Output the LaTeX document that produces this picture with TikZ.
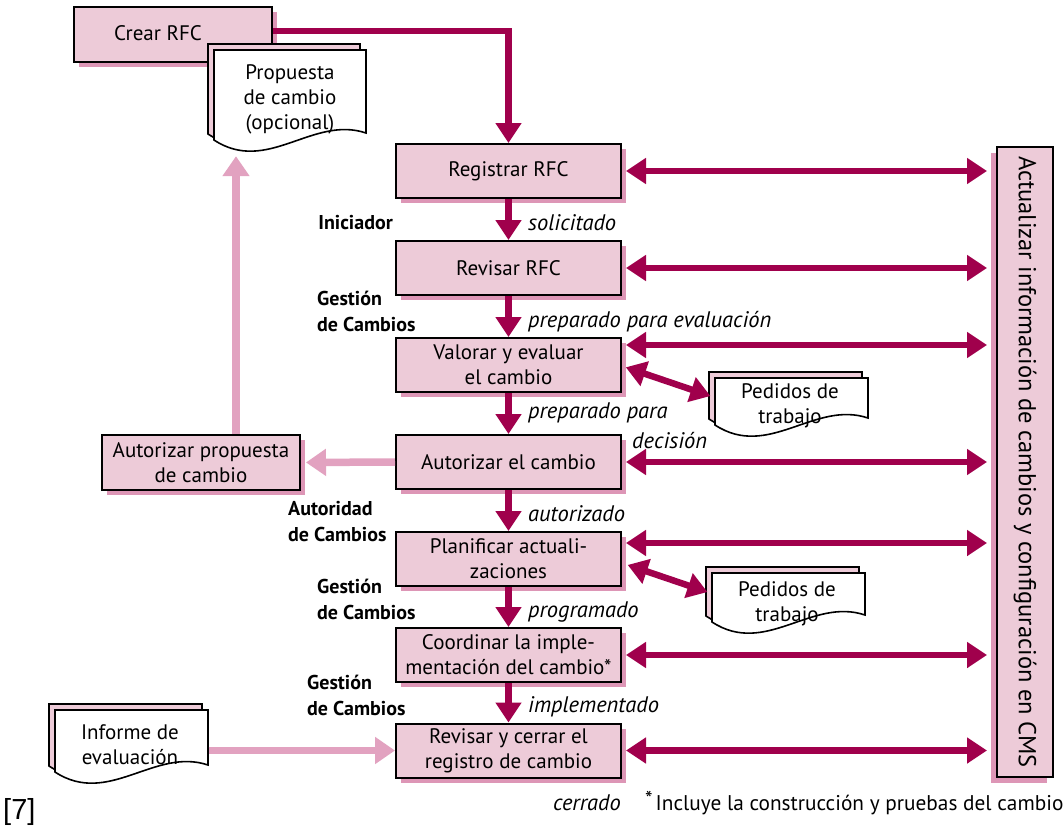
\documentclass[tikz,border=0pt]{standalone}
\usepackage{fontspec}
\setmainfont{PT Sans}
\newfontfamily\refont{Liberation Sans}
\usetikzlibrary{arrows.meta,shadows}

\definecolor{crimson}{RGB}{160,0,76}
\definecolor{boxpink}{RGB}{237,203,216}
\definecolor{shadepink}{RGB}{221,150,182}
\definecolor{palearrow}{RGB}{226,162,192}

\tikzset{
  every node/.style={font=\fontsize{21}{25}\selectfont},
  stepbox/.style={draw=black, line width=2pt, fill=boxpink,
    minimum width=225pt, minimum height=54pt, align=center, inner sep=0pt,
    drop shadow={shadow xshift=5pt, shadow yshift=-5pt, fill=shadepink, opacity=1}},
  doctext/.style={minimum width=153pt, inner sep=0pt, align=center},
  role/.style={font=\bfseries\fontsize{20}{26}\selectfont, align=left, inner sep=0pt},
  state/.style={font=\itshape\fontsize{22.5}{26}\selectfont, inner sep=0pt, anchor=west},
  flow/.style={draw=crimson, line width=6.5pt, -{Triangle[width=25pt,length=20pt]}},
  twoway/.style={draw=crimson, line width=6.5pt,
    {Triangle[width=25pt,length=20pt]}-{Triangle[width=25pt,length=20pt]}},
  pale/.style={draw=palearrow, line width=7.5pt, -{Triangle[width=26pt,length=20pt]}},
}

% two stacked sheets with a wavy lower edge; front sheet given by left, top, right, bottom
\newcommand\drawdoc[4]{%
  \pgfmathsetmacro\dw{#3-#1}%
  \foreach \dx/\dy/\fc in {-6/-6/boxpink, 0/0/white}{%
    \draw[line width=1.6pt, fill=\fc, shift={(\dx,\dy)}]
      (#1,#2) -- (#3,#2) -- (#3,#4-7)
      .. controls (#3-0.35*\dw,#4-25) and (#1+0.35*\dw,#4+35) .. (#1,#4) -- cycle;
  }%
}

\begin{document}
\begin{tikzpicture}[x=1pt,y=-1pt]
\fill[white] (0,0) rectangle (1063,828);
\useasboundingbox (0,0) rectangle (1063,828);

% originator
\node[stepbox, minimum width=198pt, minimum height=55pt] (crear) at (173,34.5) {};
\node (crearlbl) at (158,33) {Crear RFC};

% documents
\drawdoc{214}{50}{366}{140}
\node[doctext, minimum height=100pt] (prop) at (290,99) {Propuesta\\de cambio\\(opcional)};
\drawdoc{715}{378}{868}{425}
\node[doctext] (ped1) at (790,406) {Pedidos de\\trabajo};
\drawdoc{712}{573}{865}{622}
\node[doctext] (ped2) at (787,604) {Pedidos de\\trabajo};
\drawdoc{55}{710}{208}{772}
\node[doctext] (inf) at (130,745) {Informe de\\evaluación};

% main process steps
\node[stepbox] (reg) at (508.5,171) {Registrar RFC};
\node[stepbox] (rev) at (508.5,268) {Revisar RFC};
\node[stepbox] (val) at (508.5,365) {Valorar y evaluar\\el cambio};
\node[stepbox] (aut) at (508.5,462) {Autorizar el cambio};
\node[stepbox] (pla) at (508.5,559) {Planificar actuali-\\zaciones};
\node[stepbox] (coo) at (508.5,655) {Coordinar la imple-\\mentación del cambio*};
\node[stepbox] (cer) at (508.5,750.5) {Revisar y cerrar el\\registro de cambio};

\node[stepbox, minimum width=198pt, minimum height=55pt] (autp) at (201,462.5)
  {Autorizar propuesta\\de cambio};

% configuration update column
\node[draw=black, line width=2pt, fill=boxpink, minimum width=56pt, minimum height=630pt,
  inner sep=0pt,
  drop shadow={shadow xshift=-6pt, shadow yshift=-6pt, fill=shadepink, opacity=1}]
  (cms) at (1025,462) {};
\node[rotate=-90, font=\fontsize{24.5}{28}\selectfont] (cmslbl) at (cms.center)
  {Actualizar información de cambios y configuración en CMS};

% main flow
\draw[flow] ([yshift=3.5pt]crear.east) -| (reg.north);
\draw[flow] (reg.south) -- (rev.north);
\draw[flow] (rev.south) -- (val.north);
\draw[flow] (val.south) -- (aut.north);
\draw[flow] (aut.south) -- (pla.north);
\draw[flow] (pla.south) -- (coo.north);
\draw[flow] (coo.south) -- (cer.north);

% exchanges with the CMS
\foreach \n/\dy in {reg/0, rev/0, val/20, aut/0, pla/16, coo/0, cer/0}{
  \draw[twoway, shorten <=4pt, shorten >=9pt]
    ([yshift=\dy pt]\n.east) -- ([yshift=\dy pt]\n.east -| cms.west);
}

% work orders
\draw[twoway, shorten <=4pt, shorten >=3pt] ([yshift=-1pt]val.east) -- ([yshift=9pt]ped1.west);
\draw[twoway, shorten <=6pt, shorten >=3pt] ([yshift=-4pt]pla.east) -- ([yshift=11pt]ped2.west);

% proposal and evaluation paths
\draw[pale, shorten >=5pt] (aut.west) -- (autp.east);
\draw[pale, shorten >=7pt] ([xshift=35pt]autp.north) -- ([xshift=35pt]autp.north |- prop.south);
\draw[pale, shorten <=2pt] (cer.west -| inf.east) -- (cer.west);

% roles
\node[role, anchor=east] (r1) at (393,223) {Iniciador};
\node[role, anchor=west] (r2) at (317,311) {Gestión\\de Cambios};
\node[role, anchor=west] (r3) at (288,522) {Autoridad\\de Cambios};
\node[role, anchor=west] (r4) at (317,599) {Gestión\\de Cambios};
\node[role, anchor=west] (r5) at (307,695) {Gestión\\de Cambios};

% states
\node[state] (s1) at (528,223) {solicitado};
\node[state] (s2) at (528,322) {preparado para evaluación};
\node[state] (s3) at (528,413) {preparado para};
\node[state] (s3b) at (632,441) {decisión};
\node[state] (s4) at (528,514) {autorizado};
\node[state] (s5) at (528,612) {programado};
\node[state] (s6) at (528,707) {implementado};
\node[state] (s7) at (553,803) {cerrado};

\node[anchor=west, inner sep=0pt, font=\fontsize{21.3}{25}\selectfont] (note) at (645,803)
  {\raisebox{4pt}{*}\hspace{3pt}Incluye la construcción y pruebas del cambio};
\node[anchor=west, inner sep=0pt, font=\refont\fontsize{29}{32}\selectfont] (ref) at (3,812) {[7]};
\end{tikzpicture}
\end{document}
